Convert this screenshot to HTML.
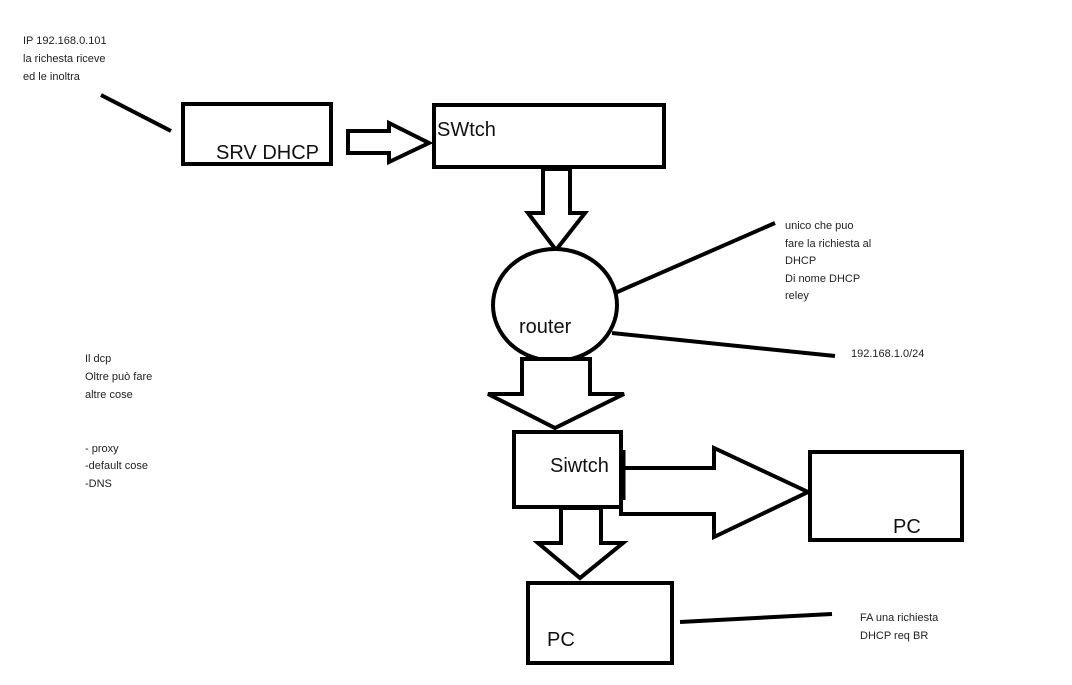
<!DOCTYPE html>
<html><head><meta charset="utf-8"><style>
html,body{margin:0;padding:0;background:#fff;}
svg{display:block;}
text{font-family:"Liberation Sans",sans-serif;fill:#222;}
.s{font-size:11px;}
.l{font-size:20px;fill:#111;}
</style></head><body>
<svg width="1072" height="685" viewBox="0 0 1072 685" xmlns="http://www.w3.org/2000/svg">
<g fill="#fff" stroke="#000" stroke-width="4" stroke-linejoin="miter">
<rect x="183" y="104" width="148" height="60"/>
<polygon points="348,131 389,131 389,123 429,143 389,162 389,153 348,153"/>
<rect x="434" y="105" width="230" height="62"/>
<polygon points="543,169 570,169 570,213 585,213 556,250 528,213 543,213"/>
<ellipse cx="555" cy="305" rx="62" ry="56"/>
<line x1="615" y1="293" x2="775" y2="223"/>
<line x1="612" y1="333" x2="835" y2="356"/>
<polygon points="522,359 590,359 590,394 624,394 555,428 488,394 522,394"/>
<rect x="514" y="432" width="107" height="75"/>
<polygon points="621,468 714,468 714,448 808,492 714,537 714,514 621,514"/>
<line x1="623" y1="450" x2="623" y2="500" stroke-width="5"/>
<rect x="810" y="452" width="152" height="88"/>
<polygon points="561,508 601,508 601,543 623,543 580,578 538,543 561,543"/>
<rect x="528" y="583" width="144" height="80"/>
<line x1="680" y1="622" x2="832" y2="614"/>
<line x1="101" y1="95" x2="171" y2="131"/>
</g>
<text class="l" x="216" y="159">SRV DHCP</text>
<text class="l" x="437" y="136">SWtch</text>
<text class="l" x="519" y="333">router</text>
<text class="l" x="550" y="472">Siwtch</text>
<text class="l" x="893" y="533">PC</text>
<text class="l" x="547" y="646">PC</text>
<text class="s" x="23" y="44">IP 192.168.0.101</text>
<text class="s" x="23" y="62">la richesta riceve</text>
<text class="s" x="23" y="80">ed le inoltra</text>
<text class="s" x="785" y="229">unico che puo</text>
<text class="s" x="785" y="247">fare la richiesta al</text>
<text class="s" x="785" y="264">DHCP</text>
<text class="s" x="785" y="282">Di nome DHCP</text>
<text class="s" x="785" y="299">reley</text>
<text class="s" x="851" y="357">192.168.1.0/24</text>
<text class="s" x="85" y="362">Il dcp</text>
<text class="s" x="85" y="380">Oltre può fare</text>
<text class="s" x="85" y="398">altre  cose</text>
<text class="s" x="85" y="452">- proxy</text>
<text class="s" x="85" y="469">-default cose</text>
<text class="s" x="85" y="487">-DNS</text>
<text class="s" x="860" y="621">FA una richiesta</text>
<text class="s" x="860" y="639">DHCP req BR</text>
</svg>
</body></html>
